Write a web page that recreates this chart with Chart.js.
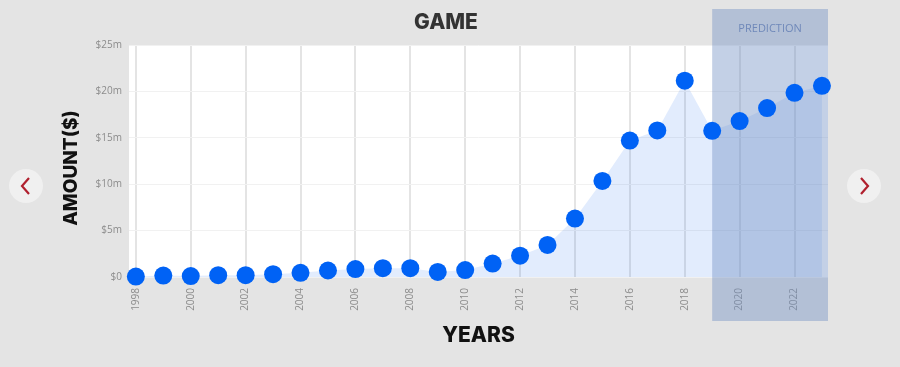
<!DOCTYPE html>
<html>
<head>
<meta charset="utf-8">
<title>Game</title>
<script src="https://cdn.jsdelivr.net/npm/chart.js@4.4.1/dist/chart.umd.min.js"></script>
<style>
  html, body { margin: 0; padding: 0; background: #e4e4e4; }
  #wrap { position: relative; width: 900px; height: 367px; }
  .nav {
    position: absolute; top: 169px; width: 34px; height: 34px; border-radius: 50%;
    background: #f0f0f0;
  }
  .nav svg { position: absolute; left: 0; top: 0; }
  #prev { left: 9px; }
  #next { left: 847px; }
</style>
</head>
<body>
<div id="wrap">
  <canvas id="gameChart" width="900" height="367"></canvas>
  <div class="nav" id="prev"><svg width="34" height="34"><polyline points="20,9 13,17 20,25" fill="none" stroke="#b0202e" stroke-width="2.2"/></svg></div>
  <div class="nav" id="next"><svg width="34" height="34"><polyline points="14,9 21,17 14,25" fill="none" stroke="#b0202e" stroke-width="2.2"/></svg></div>
</div>
<script>
// data (millions of dollars)
const years = [1998, 1999, 2000, 2001, 2002, 2003, 2004, 2005, 2006, 2007, 2008, 2009, 2010,
               2011, 2012, 2013, 2014, 2015, 2016, 2017, 2018, 2019, 2020, 2021, 2022, 2023];
const amounts = [0.05, 0.15, 0.1, 0.2, 0.2, 0.3, 0.45, 0.7, 0.85, 0.95, 0.95, 0.55, 0.75,
                 1.45, 2.3, 3.45, 6.3, 10.35, 14.7, 15.8, 21.15, 15.75, 16.8, 18.2, 19.85, 20.6];
const yearTicks = [1998, 2000, 2002, 2004, 2006, 2008, 2010, 2012, 2014, 2016, 2018, 2020, 2022];
const amountTicks = [0, 5, 10, 15, 20, 25];
const predictionFrom = 2019;

const points = years.map((y, i) => ({ x: y, y: amounts[i] }));

// white plot background
const plotBg = {
    id: "plotBg",
    beforeDraw(chart) {
        const a = chart.chartArea, ctx = chart.ctx;
        ctx.save();
        ctx.fillStyle = "#ffffff";
        ctx.fillRect(a.left, a.top, a.right - a.left, a.bottom - a.top);
        ctx.restore();
    }
};

// prediction band, drawn over the area fill but under the dots
const predictionBand = {
    id: "predictionBand",
    afterDatasetDraw(chart, args) {
        if (args.index !== 1) return;
        const ctx = chart.ctx;
        const x0 = chart.scales.x.getPixelForValue(predictionFrom);
        const x1 = chart.chartArea.right;
        ctx.save();
        ctx.fillStyle = "rgba(112,142,196,0.42)";
        ctx.fillRect(x0, 9, x1 - x0, 312);
        ctx.fillStyle = "#6f88b9";
        ctx.font = "11px 'Open Sans'";
        ctx.textAlign = "center";
        ctx.textBaseline = "middle";
        ctx.fillText("PREDICTION", (x0 + x1) / 2, 29);
        ctx.restore();
    }
};

// titles
const titles = {
    id: "titles",
    afterDraw(chart) {
        const ctx = chart.ctx, a = chart.chartArea;
        ctx.save();
        ctx.textAlign = "center";
        ctx.textBaseline = "middle";
        ctx.fillStyle = "#333333";
        ctx.font = "800 21px Inter";
        ctx.fillText("GAME", 446, 23);
        ctx.fillStyle = "#111111";
        ctx.font = "800 21px Inter";
        ctx.fillText("YEARS", (a.left + a.right) / 2, 336);
        ctx.font = "800 19px Inter";
        ctx.translate(71, 168);
        ctx.rotate(-Math.PI / 2);
        ctx.fillText("AMOUNT($)", 0, 0);
        ctx.restore();
    }
};

new Chart(document.getElementById("gameChart"), {
    type: "line",
    data: {
        datasets: [{
            label: "Amount",
            data: points,
            showLine: false,
            pointRadius: 9,
            pointHoverRadius: 9,
            pointBackgroundColor: "#0062f5",
            pointBorderWidth: 0,
            clip: false,
            order: 0
        }, {
            label: "Area",
            data: points,
            fill: "origin",
            backgroundColor: "rgba(20,100,240,0.12)",
            borderWidth: 0,
            pointRadius: 0,
            tension: 0,
            order: 1
        }]
    },
    options: {
        responsive: false,
        animation: false,
        layout: { padding: { left: 0, right: 72, top: 45, bottom: 0 } },
        plugins: {
            legend: { display: false },
            tooltip: { enabled: false }
        },
        scales: {
            x: {
                type: "linear",
                min: 1997.75,
                max: 2023.22,
                afterBuildTicks(scale) { scale.ticks = yearTicks.map(v => ({ value: v })); },
                afterFit(scale) { scale.height = 90; },
                border: { display: false },
                grid: { color: "#e4e4e4", lineWidth: 2, drawTicks: false },
                ticks: {
                    minRotation: 90, maxRotation: 90,
                    padding: 11,
                    color: "#8c8c8c",
                    font: { family: "'Open Sans'", size: 10 },
                    callback: v => String(v)
                }
            },
            y: {
                min: 0,
                max: 25,
                afterBuildTicks(scale) { scale.ticks = amountTicks.map(v => ({ value: v })); },
                afterFit(scale) { scale.width = 129; },
                border: { display: false },
                grid: { color: "#f1f1f1", lineWidth: 1, drawTicks: false },
                ticks: {
                    padding: 7,
                    color: "#8c8c8c",
                    font: { family: "'Open Sans'", size: 10 },
                    callback: v => v === 0 ? "$0" : "$" + v + "m"
                }
            }
        }
    },
    plugins: [plotBg, predictionBand, titles]
});
</script>
</body>
</html>
